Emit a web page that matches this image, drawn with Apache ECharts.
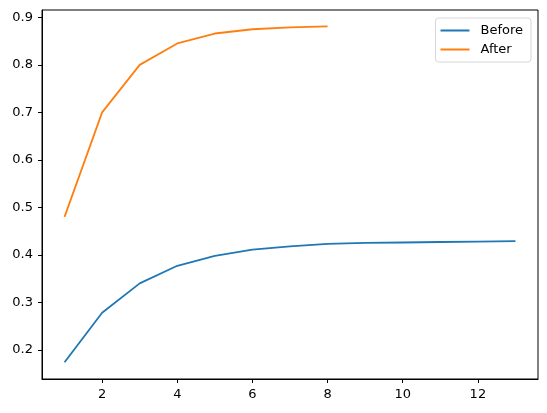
<!DOCTYPE html>
<html>
<head>
<meta charset="utf-8">
<script src="https://cdn.jsdelivr.net/npm/echarts@6/dist/echarts.min.js"></script>
<style>
  html, body { margin: 0; padding: 0; background: #fff; }
  #chart { width: 547px; height: 413px; }
</style>
</head>
<body>
<div id="chart"></div>
<script>
// values
const beforeX = [1, 2, 3, 4, 5, 6, 7, 8, 9, 10, 11, 12, 13];
const beforeY = [0.174, 0.278, 0.340, 0.377, 0.398, 0.411, 0.418, 0.423, 0.425, 0.426, 0.427, 0.428, 0.429];
const afterX = [1, 2, 3, 4, 5, 6, 7, 8];
const afterY = [0.480, 0.700, 0.800, 0.845, 0.866, 0.875, 0.879, 0.881];
const xTicks = [2, 4, 6, 8, 10, 12];
const yTicks = [0.2, 0.3, 0.4, 0.5, 0.6, 0.7, 0.8, 0.9];

const pairs = (xs, ys) => xs.map((x, i) => [x, ys[i]]);

const font = 'DejaVu Sans';
const fs = 13;
const axisCommon = {
    axisLine: { show: true, onZero: false, lineStyle: { color: '#000', width: 1 } },
    axisTick: { show: true, length: 4, lineStyle: { color: '#000', width: 1 } },
    axisLabel: { color: '#000', fontSize: fs, fontFamily: font },
    splitLine: { show: false }
};

const chart = echarts.init(document.getElementById('chart'));
chart.setOption({
    animation: false,
    grid: { left: 42, right: 9, top: 10, bottom: 34, show: true, borderColor: '#000', borderWidth: 1 },
    legend: {
        right: 16, top: 18, orient: 'vertical',
        icon: 'rect', itemWidth: 29, itemHeight: 2, itemGap: 6,
        borderColor: '#d6d6d6', borderWidth: 1, borderRadius: 3,
        padding: [6, 8, 6, 5],
        textStyle: { fontSize: fs, fontFamily: font, color: '#000', padding: [0, 0, 0, 6] },
        data: ['Before', 'After']
    },
    xAxis: Object.assign({}, axisCommon, {
        type: 'value', min: 0.4, max: 13.6,
        axisTick: Object.assign({}, axisCommon.axisTick, { customValues: xTicks }),
        axisLabel: Object.assign({}, axisCommon.axisLabel, { customValues: xTicks, margin: 9 })
    }),
    yAxis: Object.assign({}, axisCommon, {
        type: 'value', min: 0.1386, max: 0.9155,
        axisTick: Object.assign({}, axisCommon.axisTick, { customValues: yTicks }),
        axisLabel: Object.assign({}, axisCommon.axisLabel, {
            customValues: yTicks, margin: 9,
            formatter: v => v.toFixed(1)
        })
    }),
    series: [
        { name: 'Before', type: 'line', data: pairs(beforeX, beforeY), showSymbol: false,
          color: '#1f77b4', lineStyle: { width: 1.8, color: '#1f77b4' } },
        { name: 'After', type: 'line', data: pairs(afterX, afterY), showSymbol: false,
          color: '#ff7f0e', lineStyle: { width: 1.8, color: '#ff7f0e' } }
    ]
});
</script>
</body>
</html>
